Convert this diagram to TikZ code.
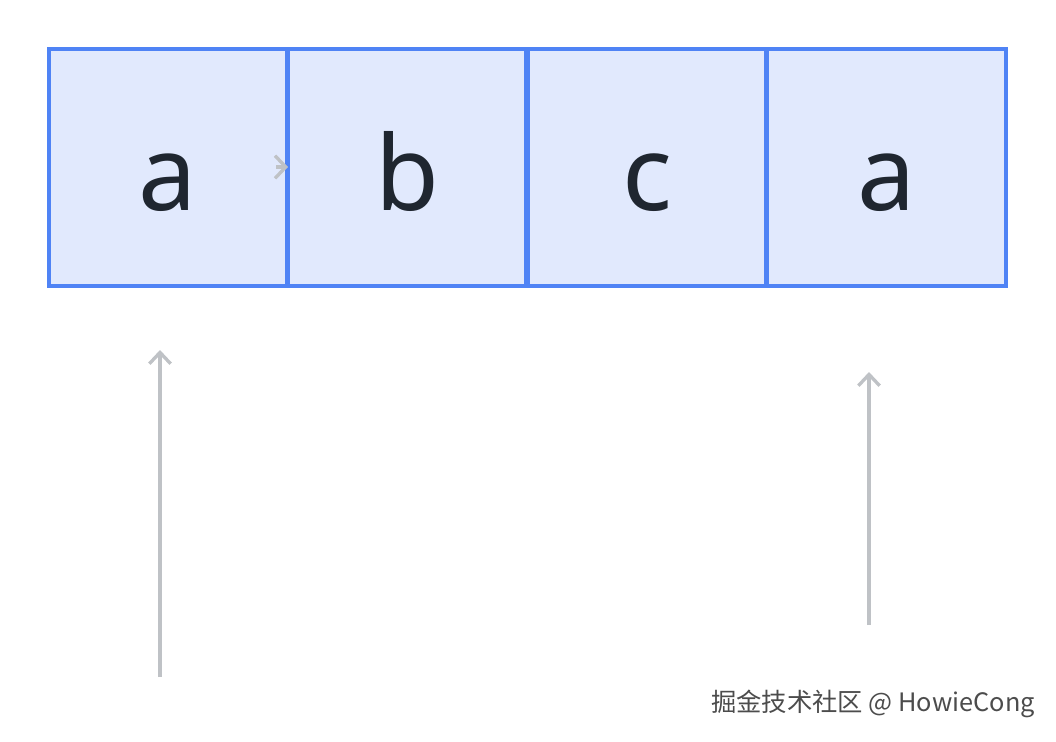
\documentclass[tikz,border=0pt]{standalone}
\usepackage{fontspec}
\setmainfont{Noto Sans}
\newfontfamily\cjk{Noto Sans CJK SC}
\usetikzlibrary{arrows.meta}
\definecolor{boxfill}{HTML}{E1E9FD}
\definecolor{boxline}{HTML}{4F83F5}
\definecolor{txt}{HTML}{1F2630}
\definecolor{arr}{HTML}{BFC2C6}
\tikzset{
  cell/.style={draw=boxline, fill=boxfill, line width=3pt, minimum width=179pt, minimum height=178pt,
    inner sep=0pt, font=\fontsize{78pt}{80pt}\selectfont, text=txt, text height=65pt, text depth=0pt},
  ptr/.style={draw=arr, line width=2.5pt, -{Straight Barb[length=8.5pt,width=16pt,line width=2.5pt]}}
}
\begin{document}
\begin{tikzpicture}[x=0.75pt,y=-0.75pt]
\useasboundingbox (0,0) rectangle (1056,742);
\node[cell] (c1) at (168,167.5) {a};
\node[cell] (c2) at (407,167.5) {b};
\node[cell] (c3) at (647,167.5) {c};
\node[cell] (c4) at (886.5,167.5) {a};
\coordinate (s0) at (276,167);
\coordinate (s1) at (288,167);
\draw[ptr, -{Straight Barb[length=8pt,width=17pt,line width=2.5pt]}] (s0) -- (s1);
\coordinate (l0) at (160,677);
\coordinate (l1) at (160,350);
\coordinate (r0) at (869,625);
\coordinate (r1) at (869,372);
\draw[ptr] (l0) -- (l1);
\draw[ptr] (r0) -- (r1);
\node[text=gray!60!black, font=\cjk\fontsize{19pt}{22pt}\selectfont] (wm) at (873,704) {掘金技术社区 @ HowieCong};
\end{tikzpicture}
\end{document}
